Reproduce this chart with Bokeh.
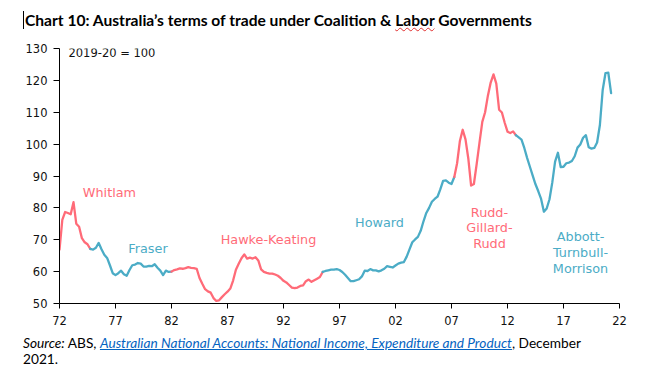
from bokeh.plotting import figure
from bokeh.models import Range1d, FixedTicker, Label, Div
from bokeh.layouts import column
from bokeh.embed import file_html
from bokeh.resources import INLINE

# ---- data -------------------------------------------------------------
start_year = 1972.0          # first quarter shown
terms_of_trade = [
    66.9, 76.2, 78.7, 78.4, 78.0, 81.8, 75.0, 74.1, 70.5, 69.2,
    68.6, 67.1, 66.9, 67.5, 69.0, 67.0, 65.3, 64.3, 62.0, 59.5,
    58.9, 59.5, 60.3, 59.2, 58.7, 60.5, 62.0, 62.2, 62.7, 62.5,
    61.6, 61.6, 61.8, 61.7, 62.3, 61.2, 60.3, 58.9, 60.3, 59.9,
    60.0, 60.5, 60.7, 61.0, 60.9, 61.1, 61.4, 61.2, 61.1, 60.9,
    58.0, 56.2, 54.5, 53.8, 53.4, 51.7, 50.8, 51.0, 52.0, 52.9,
    53.7, 54.7, 57.2, 60.6, 62.5, 64.2, 65.4, 64.1, 64.4, 64.1,
    64.5, 63.5, 60.7, 59.9, 59.6, 59.4, 59.4, 59.1, 58.7, 58.0,
    57.1, 56.6, 55.8, 55.0, 54.8, 55.0, 55.5, 55.7, 57.0, 57.5,
    56.8, 57.3, 57.8, 58.3, 59.9, 60.2, 60.4, 60.6, 60.6, 60.8,
    60.5, 59.9, 59.0, 58.0, 57.0, 57.0, 57.3, 57.6, 58.5, 60.3,
    60.2, 60.8, 60.4, 60.4, 60.1, 60.4, 60.9, 61.7, 61.5, 61.3,
    61.9, 62.5, 62.8, 63.0, 64.7, 67.0, 69.2, 70.1, 70.9, 72.8,
    75.8, 78.4, 80.0, 81.9, 82.8, 83.5, 85.8, 88.5, 88.6, 87.9,
    87.5, 89.7, 94.0, 101.0, 104.5, 101.5, 95.5, 87.0, 87.5, 93.8,
    100.5, 107.0, 110.0, 115.2, 119.3, 121.9, 119.0, 110.8, 109.9, 106.7,
    103.9, 103.5, 104.0, 102.8, 102.1, 101.4, 98.8, 95.7, 92.9, 90.1,
    87.4, 85.2, 82.8, 78.8, 79.8, 82.7, 88.0, 94.5, 97.3, 92.8,
    92.9, 94.0, 94.2, 94.7, 96.2, 98.9, 99.9, 102.0, 102.8, 99.0,
    98.6, 98.8, 100.5, 106.0, 117.0, 122.3, 122.4, 116.0,
]
gov_names = ["Whitlam", "Fraser", "Hawke-Keating", "Howard",
             "Rudd-Gillard-Rudd", "Abbott-Turnbull-Morrison"]
gov_party = ["Labor", "Coalition", "Labor", "Coalition", "Labor", "Coalition"]
gov_start_index = [0, 11, 40, 94, 141, 163]
tick_years = [1972, 1977, 1982, 1987, 1992, 1997, 2002, 2007, 2012, 2017, 2022]
tick_labels = ["72", "77", "82", "87", "92", "97", "02", "07", "12", "17", "22"]
y_ticks = [50, 60, 70, 80, 90, 100, 110, 120, 130]

# ---- style ------------------------------------------------------------
RED = "#FF6B78"
BLUE = "#4BACC6"
party_color = {"Labor": RED, "Coalition": BLUE}
LABEL_FONT = "DejaVu Sans"
TICK_FONT = "DejaVu Sans"

years = [start_year + i / 4 for i in range(len(terms_of_trade))]

p = figure(width=646, height=299,
           x_range=Range1d(1972, 2022), y_range=Range1d(50, 130),
           output_backend="svg", toolbar_location=None,
           min_border_left=59, min_border_right=27,
           min_border_top=14, min_border_bottom=30)
p.xgrid.visible = False
p.ygrid.visible = False
p.outline_line_color = None
p.background_fill_color = "white"
p.border_fill_color = "white"

bounds = gov_start_index + [len(terms_of_trade) - 1]
for i, party in enumerate(gov_party):
    a, b = bounds[i], bounds[i + 1]
    p.line(years[a:b + 1], terms_of_trade[a:b + 1],
           line_color=party_color[party], line_width=2.3,
           line_join="round", line_cap="round")

for ax in (p.xaxis, p.yaxis):
    ax.axis_line_color = "black"
    ax.axis_line_width = 1
    ax.major_tick_line_color = "black"
    ax.minor_tick_line_color = None
    ax.major_tick_in = 0
    ax.major_label_text_font = TICK_FONT
    ax.major_label_text_font_size = "11.5px"
    ax.major_label_text_color = "#111111"

p.xaxis.ticker = FixedTicker(ticks=tick_years)
p.xaxis.major_label_overrides = {y: l for y, l in zip(tick_years, tick_labels)}
p.xaxis.major_tick_out = 5
p.xaxis.major_label_standoff = 7
p.yaxis.ticker = FixedTicker(ticks=y_ticks)
p.yaxis.major_tick_out = 6
p.yaxis.major_label_standoff = 6

def add_label(x, y, text, color, align="center", size="12.8px"):
    p.add_layout(Label(x=x, y=y, text=text, text_color=color,
                       text_font=LABEL_FONT, text_font_size=size,
                       text_align=align, text_baseline="middle"))

add_label(1972.8, 128.5, "2019-20 = 100", "#111111", align="left", size="11.5px")
add_label(1976.46, 84.7, "Whitlam", RED)
add_label(1979.90, 67.25, "Fraser", BLUE)
add_label(1990.66, 70.1, "Hawke-Keating", RED)
add_label(2000.57, 75.4, "Howard", BLUE)
add_label(2010.39, 78.55, "Rudd-", RED)
add_label(2010.39, 73.84, "Gillard-", RED)
add_label(2010.39, 68.92, "Rudd", RED)
add_label(2018.52, 71.1, "Abbott-", BLUE)
add_label(2018.52, 66.1, "Turnbull-", BLUE)
add_label(2018.52, 60.9, "Morrison", BLUE)

title = Div(
    text=('<div style="font-family:Lato;font-weight:bold;font-size:15.6px;'
          'line-height:24px;color:#000;padding-left:23px;padding-top:8px;white-space:nowrap">'
          '<span style="border-left:1px solid #000;padding-left:1px">'
          'Chart 10: Australia\u2019s terms of trade under Coalition &amp; '
          '<span style="text-decoration:underline wavy #e03030;'
          'text-decoration-thickness:1px">Labor</span> Governments</span></div>'),
    width=646, height=34, margin=0)

source = Div(
    text=('<div style="font-family:Lato;font-size:13.7px;line-height:16px;'
          'color:#000;padding-left:23px;padding-top:2px;white-space:nowrap">'
          '<i>Source:</i> ABS, <span style="color:#0563C1;text-decoration:underline">'
          '<i>Australian National Accounts: National Income, Expenditure and Product</i>'
          '</span>, December<br>2021.</div>'),
    width=646, height=40, margin=0)

layout = column(title, p, source, spacing=0)
open("out.html", "w").write(file_html(layout, INLINE))
